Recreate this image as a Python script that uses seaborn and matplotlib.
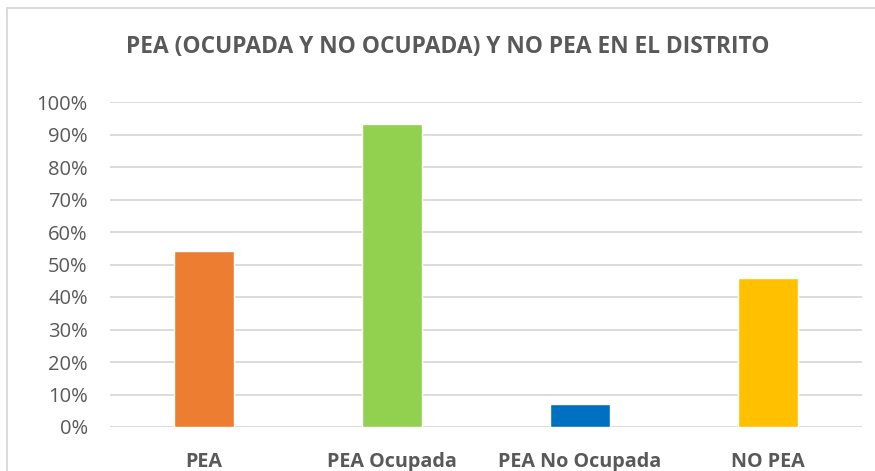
import matplotlib
matplotlib.use("Agg")
import matplotlib.pyplot as plt
import seaborn as sns
import pandas as pd
from matplotlib.patches import Rectangle
from matplotlib.ticker import FuncFormatter, MultipleLocator

categories = ["PEA", "PEA Ocupada", "PEA No Ocupada", "NO PEA"]
values = [54.2, 93.2, 7.1, 45.8]
colors = ["#ED7D31", "#92D050", "#0070C0", "#FFC000"]
title = "PEA (OCUPADA Y NO OCUPADA) Y NO PEA EN EL DISTRITO"

sns.set_theme(style="white")
plt.rcParams["font.family"] = ["Open Sans", "DejaVu Sans"]

W, H = 875, 471
fig = plt.figure(figsize=(W / 100, H / 100), dpi=100)
ax = fig.add_axes([110 / W, 1 - 427 / H, (862 - 110) / W, (427 - 102) / H])

df = pd.DataFrame({"cat": categories, "val": values})
sns.barplot(data=df, x="cat", y="val", hue="cat", palette=colors, legend=False,
            width=0.314, ax=ax, saturation=1, zorder=3)

ax.set_ylim(0, 100)
ax.yaxis.set_major_locator(MultipleLocator(10))
ax.yaxis.set_major_formatter(FuncFormatter(lambda v, p: f"{int(round(v))}%"))
ax.grid(axis="y", color="#D9D9D9", linewidth=1.3, zorder=0)
ax.set_axisbelow(True)
for s in ax.spines.values():
    s.set_visible(False)
ax.set_xlabel("")
ax.set_ylabel("")
ax.tick_params(axis="y", length=0, pad=16, labelsize=14.5, labelcolor="#595959")
ax.tick_params(axis="x", length=0, pad=18, labelsize=14.2, labelcolor="#595959")
for lbl in ax.get_xticklabels():
    lbl.set_fontweight("bold")

fig.text(448 / W, 1 - 47 / H, title, ha="center", va="center",
         fontsize=16.4, fontweight="bold", color="#595959")

fig.patches.append(Rectangle((7 / W, -0.1), 1.2, 1 - 8 / H + 0.1,
                             transform=fig.transFigure, fill=False,
                             edgecolor="#D9D9D9", linewidth=1.3))

fig.savefig("out.png", dpi=100, facecolor="white")
